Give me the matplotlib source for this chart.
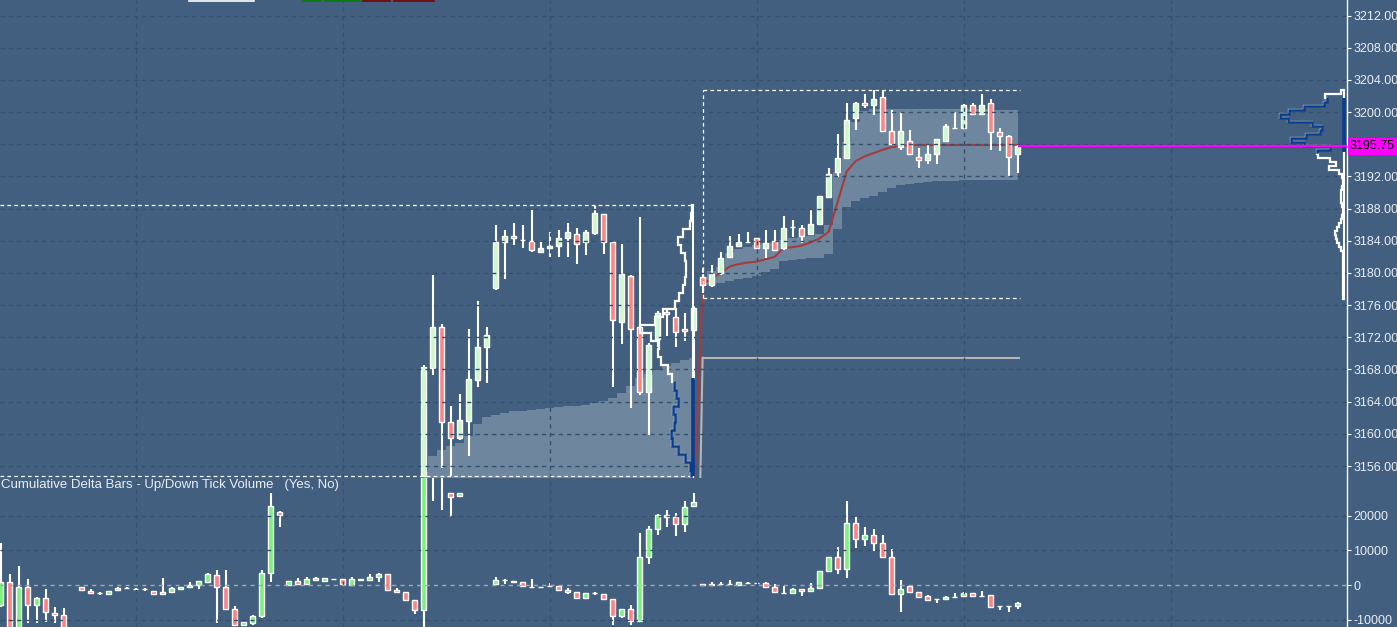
import numpy as np
import matplotlib
matplotlib.use("Agg")
import matplotlib.pyplot as plt
from matplotlib.transforms import blended_transform_factory
from matplotlib.lines import Line2D

nan = np.nan

# ---------------- price bars (bar index 47..113) ----------------
price_idx = list(range(47, 114))
price_open = [3154.75, 3168.15, 3173.3, 3161.45, 3159.45, 3161.6, 3166.7, 3170.75, 3178.1, 3183.8,
              3184.6, 3184.1, 3184.0, 3182.55, 3183.05, 3183.3, 3184.3, 3184.8, 3183.8, 3185.0,
              3187.3, 3183.8, 3173.95, 3179.65, 3173.25, 3165.15, 3171.8, 3175.1, 3174.5, 3173.0,
              3172.9,
              3179.45, 3178.5, 3179.95, 3181.95, 3183.3, 3183.8, 3184.3, 3183.05, 3184.0, 3183.05,
              3185.75, 3185.55, 3184.85, 3186.1, 3189.5, 3192.6, 3194.25, 3199.3, 3201.1, 3200.9,
              3201.85, 3197.7, 3195.7, 3196.45, 3194.45, 3194.0, 3194.8, 3196.4, 3197.97, 3197.97,
              3200.9, 3199.8, 3201.1, 3197.5, 3197.0, 3194.8]
price_high = [3168.5, 3179.8, 3173.7, 3163.45, 3164.95, 3173.0, 3176.5, 3173.3, 3185.9, 3185.3,
              3186.2, 3185.9, 3187.8, 3183.9, 3185.15, 3185.35, 3186.2, 3185.55, 3185.35, 3188.3,
              3187.3, 3183.8, 3183.6, 3179.8, 3186.9, 3171.25, 3175.3, 3175.6, 3175.6, 3175.0,
              3176.0,
              3180.57, 3180.98, 3182.56, 3184.6, 3184.85, 3185.05, 3184.3, 3185.35, 3185.35, 3187.1,
              3186.6, 3186.0, 3187.9, 3189.6, 3193.0, 3197.3, 3201.1, 3201.3, 3202.3, 3202.7,
              3202.7, 3200.3, 3199.96, 3197.8, 3195.5, 3196.0, 3196.7, 3198.5, 3200.05, 3201.0,
              3201.1, 3202.3, 3201.6, 3198.0, 3197.2, 3195.9]
price_low = [3154.75, 3167.3, 3155.7, 3154.75, 3159.25, 3157.25, 3165.85, 3166.35, 3177.9, 3179.3,
             3183.5, 3183.05, 3182.65, 3182.55, 3182.0, 3182.0, 3182.0, 3181.1, 3182.2, 3184.7,
             3182.4, 3165.85, 3171.2, 3163.15, 3164.8, 3159.85, 3170.8, 3172.1, 3170.8, 3171.6,
             3166.7,
             3177.5, 3178.3, 3179.7, 3181.8, 3183.3, 3183.8, 3183.05, 3181.8, 3182.85, 3182.85,
             3184.5, 3183.7, 3184.85, 3186.1, 3189.5, 3191.9, 3194.25, 3197.8, 3200.5, 3199.6,
             3197.7, 3195.9, 3195.3, 3194.7, 3193.1, 3193.6, 3193.6, 3196.4, 3197.97, 3197.97,
             3199.7, 3199.7, 3195.3, 3195.1, 3192.05, 3192.4]
price_close = [3168.35, 3173.3, 3161.45, 3159.45, 3161.7, 3166.8, 3170.85, 3172.3, 3183.9, 3184.6,
               3184.3, 3184.1, 3182.8, 3183.05, 3183.35, 3184.3, 3185.15, 3183.55, 3185.05, 3187.4,
               3183.8, 3174.2, 3179.9, 3173.0, 3165.15, 3171.05, 3175.0, 3174.9, 3172.7, 3172.8,
               3175.6,
               3178.5, 3179.9, 3181.9, 3183.3, 3183.8, 3183.8, 3183.05, 3183.75, 3182.85, 3185.55,
               3185.75, 3184.6, 3186.1, 3189.6, 3192.25, 3194.25, 3199.0, 3201.1, 3200.9, 3201.6,
               3197.7, 3196.0, 3197.7, 3194.8, 3194.0, 3194.8, 3196.7, 3198.3, 3197.97, 3200.9,
               3199.8, 3200.9, 3197.5, 3197.0, 3194.45, 3195.75]

# ---------------- cumulative delta bars (bar index 0..113) ----------------
delta_open = [-5800, 966, -13500, -480, -5800, -3860, -8000, -8700, nan, -480,
              -1640, -2400, -2600, -1450, -970, -1160, -1250, -1640, -2600, -1930,
              -1060, -680, 0, 966, 2900, -680, -7050, -11600, -11100, -8900,
              3380, 20960, 0, 1160, 290, 1450, 1260, 1840, 1640, 100,
              1450, 1450, 2415, 3090, -1450, -2120, -4350, -7240, 36000, 40000,
              26600, 25700, nan, nan, nan, 290, 1450, 1160, 770, -480,
              -480, -290, -390, -1450, -2120, -3860, -2415, -2610, -4150, -8900,
              -7050, -10430, 8200, 16100, 20100, 19600, 17600, 22700, 0, 0,
              290, 190, 0, 680, 480, 480, -680, -2220, -2415, -1250,
              -1840, -970, 4150, 8000, 4540, 17900, 13200, 14500, 12100, 8200,
              -2700, -190, -2120, -3190, -4150, -4060, -3380, -3190, -2415, -3190,
              -3000, -6090, -5990, -6090]
delta_high = [12075, 3190, 5500, 1740, -3380, -1160, -6280, -6570, nan, -480,
              -1250, -2120, -1640, -680, -680, -1000, -870, -1640, 1930, -480,
              -480, 870, 1160, 3380, 4350, 4350, -6100, -10600, -8700, 4350,
              26570, 21250, 1260, 1930, 2220, 2220, 1930, 1840, 1640, 2220,
              1840, 3190, 3380, 3090, -970, -2120, -4350, 37000, 41000, 40500,
              26600, 26600, nan, nan, nan, 2220, 1840, 1160, 770, 1640,
              -480, 480, -390, -970, -2120, -2400, -2030, -2610, -4150, -7050,
              -5800, 15170, 17000, 20500, 21750, 20770, 24300, 26600, 300, 770,
              870, 1450, 770, 970, 480, 870, 190, -290, -970, -1250,
              480, 4150, 8000, 10900, 24300, 19600, 16700, 16100, 14500, 10300,
              1450, -190, -2120, -2900, -4150, -3090, -2220, -2030, -2415, -1740,
              -3000, -6090, -5990, -4830]
delta_low = [-6280, -14000, -14000, -11100, -11100, -10600, -11100, -13500, nan, -1450,
             -2600, -2900, -2600, -1450, -1250, -1300, -1640, -2600, -2600, -1930,
             -1060, -970, -1250, 966, -11100, -7240, -11600, -11600, -11600, -9660,
             966, 16900, 0, 190, 290, 1450, 1260, 1840, 290, 100,
             1450, 1450, 966, -1450, -2120, -4350, -8500, -12000, 24360, 21760,
             19650, 25700, nan, nan, nan, 290, 290, 770, -290, -480,
             -480, -290, -1450, -2610, -3860, -3860, -3000, -4150, -11600, -9660,
             -11600, -10430, 6000, 14500, 16900, 14300, 15400, 22700, -100, 0,
             290, 190, 0, 680, 190, -680, -2120, -2610, -2415, -3090,
             -1840, -970, 4150, 3090, 1930, 10600, 11300, 9850, 7730, -2700,
             -7730, -2120, -3380, -4350, -5310, -4060, -3380, -3190, -3190, -3190,
             -6470, -7240, -7730, -6850]
delta_close = [966, -13000, -480, -5800, -3860, -7730, -8700, -13000, nan, -1450,
               -2200, -2400, -1640, -970, -970, -1160, -1250, -2600, -2120, -970,
               -480, -100, 1160, 3190, -480, -7050, -11600, -10600, -8900, 3380,
               22900, 20290, 1260, 190, 1640, 1930, 1930, 1840, 290, 1640,
               1840, 2220, 3090, -1450, -2120, -4350, -7240, 36000, 40000, 33000,
               25400, 26600, nan, nan, nan, 1450, 1450, 770, -290, -480,
               -480, -290, -1450, -2030, -3860, -2400, -2415, -4150, -8900, -7050,
               -10430, 8200, 16100, 20100, 19600, 17600, 22500, 24000, 190, 200,
               290, 190, 770, 680, 480, -680, -2120, -2220, -1250, -1640,
               -970, 4150, 8000, 4540, 17900, 13200, 14500, 12100, 8000, -2700,
               -1250, -2120, -3380, -4350, -4150, -3380, -3380, -2415, -3190, -3190,
               -6470, -6090, -5990, -5120]

# ---------------- VWAP and bands ----------------
vwap_idx = list(range(77, 114))
vwap = [3151.0,
        3178.6, 3179.3, 3180.0, 3180.8, 3181.1, 3181.3, 3181.4, 3181.7, 3182.0, 3183.1,
        3183.2, 3183.4, 3183.8, 3184.3, 3185.1, 3188.8, 3192.6, 3193.9, 3194.5, 3194.9,
        3195.3, 3195.65, 3195.8, 3195.9, 3195.9, 3195.9, 3195.9, 3195.9, 3195.9, 3195.9,
        3195.9, 3195.9, 3195.9, 3195.9, 3195.9, 3195.9]
band2_idx = list(range(78, 114))
band2_upper = [3179.5, 3180.2, 3180.8, 3182.5, 3183.0, 3183.2, 3183.5, 3183.7, 3183.9, 3184.1,
               3184.3, 3184.5, 3184.6, 3184.9, 3186.0, 3192.5, 3196.3, 3198.7, 3200.1, 3200.4,
               3200.4, 3200.4, 3200.4, 3200.4, 3200.4, 3200.4, 3200.4, 3200.4, 3200.4, 3200.4,
               3200.4, 3200.4, 3200.4, 3200.3, 3200.3, 3200.25]
band2_lower = [3178.4, 3178.5, 3178.7, 3179.0, 3179.2, 3179.4, 3179.6, 3180.1, 3180.5, 3181.5,
               3181.6, 3181.7, 3181.8, 3181.8, 3182.4, 3185.4, 3188.2, 3189.0, 3189.3, 3189.6,
               3190.0, 3190.5, 3190.9, 3191.1, 3191.2, 3191.3, 3191.4, 3191.4, 3191.4, 3191.5,
               3191.5, 3191.5, 3191.5, 3191.6, 3191.6, 3191.6]
band1_idx = list(range(47, 78))
band1_upper = [3155.2, 3157.3, 3158.0, 3158.5, 3158.9, 3159.7, 3161.2, 3162.1, 3162.4, 3162.6,
               3162.8, 3162.9, 3163.0, 3163.1, 3163.2, 3163.3, 3163.4, 3163.5, 3163.6, 3163.8,
               3164.1, 3164.5, 3165.1, 3166.0, 3167.0, 3167.4, 3167.9, 3168.4, 3168.8, 3169.2,
               3169.4]

prior_level_prev = 3110.0
prior_level = 3169.45

# session ranges
s1_high, s1_low, s1_last = 3188.45, 3154.75, 77
s2_first, s2_last = 78, 113
s2_high, s2_low = 3202.75, 3176.85

# ---------------- volume profiles ----------------
prof1_levels = list(range(3155, 3189))
prof1_vol = [2, 3, 7, 14, 20, 21, 18, 17, 19, 14, 16, 18, 20, 24, 30, 33, 32, 40, 50, 36,
             28, 17, 13, 9, 7, 6, 6, 7, 11, 14, 9, 3, 2, 1]
prof1_va = (3154.75, 3166.9)

prof2_levels = [3177.0 + 0.5 * k for k in range(52)]
prof2_vol = [0.5, 0.5, 0.5, 0.5, 0.5, 0.5, 0.5, 0.5, 0.5, 0.5,
             1, 1, 3, 5, 7, 8, 9, 7, 5, 3,
             2, 1, 1, 2, 3, 3, 3, 2, 1, 1,
             2, 5, 15, 8, 14, 26, 27, 14, 40, 53,
             38, 24, 22, 32, 56, 64, 55, 40, 20, 17,
             19, 3]
prof2_va = (3195.0, 3201.75)

last_price = price_close[-1]

price_ticks = list(range(3156, 3213, 4))
delta_ticks = [-10000, 0, 10000, 20000]
vgrid_idx = [15, 38, 61, 84, 107, 130]

# ---------------- style ----------------
W, H = 1397, 627
BG = "#435F7F"
GRID = "#33506E"
FILL = "#6F869F"
UP_P, DN_P = "#CDF7CD", "#FF8585"
UP_D, DN_D = "#7DF07D", "#FF8080"
BLUE = "#0B3D8E"
TXT = "#E8EEF4"

plt.rcParams["font.family"] = ["Liberation Sans", "DejaVu Sans"]

fig = plt.figure(figsize=(W / 100, H / 100), dpi=100, facecolor=BG)
split = 477.5
axw = 1347 / W
ax1 = fig.add_axes([0, (H - split) / H, axw, split / H])
ax2 = fig.add_axes([0, 0, axw, (H - split) / H])

px_per_bar = 9.0
x_left = -0.6 / px_per_bar
x_right = (1347 - 0.6) / px_per_bar

ax1.set_ylim(3212 - (split - 15.5) / 8.045, 3212 + 15.5 / 8.045)
ax2.set_ylim((585 - 627) / 34.6 * 1e4, (585 - split) / 34.6 * 1e4)

for ax in (ax1, ax2):
    ax.set_facecolor(BG)
    ax.set_xlim(x_left, x_right)
    for s in ("top", "left", "bottom"):
        ax.spines[s].set_visible(False)
    ax.spines["right"].set_color("white")
    ax.spines["right"].set_linewidth(1.0)
    ax.yaxis.tick_right()
    ax.tick_params(axis="y", colors="white", labelcolor=TXT, labelsize=9, length=3, width=0.8, pad=1.5)
    ax.set_xticks([])
    for xv in vgrid_idx:
        ax.axvline(xv, color=GRID, lw=1.0, ls=(0, (3, 3)), zorder=5)

# the tick label hidden behind the last-price marker is left blank
ax1.set_yticks(price_ticks)
ax1.set_yticklabels(["" if abs(t - last_price) < 1 else f"{t:.2f}" for t in price_ticks])
ax2.set_yticks(delta_ticks)
ax2.set_yticklabels([f"{t}" for t in delta_ticks])

for t in price_ticks:
    ax1.axhline(t, color=GRID, lw=1.0, ls=(0, (3, 3)), zorder=5)
for t in delta_ticks:
    if t == 0:
        ax2.axhline(t, color="#A7A7A7", lw=1.0, ls=(0, (3, 3)), zorder=5)
    else:
        ax2.axhline(t, color=GRID, lw=1.0, ls=(0, (3, 3)), zorder=5)


def draw_candles(ax, idx, o, h, l, c, up, dn, width=0.56):
    idx = np.asarray(idx, float)
    o, h, l, c = (np.asarray(a, float) for a in (o, h, l, c))
    m = ~np.isnan(o)
    ax.vlines(idx[m], l[m], h[m], color="white", lw=1.5, zorder=3)
    bottom = np.minimum(o, c)[m]
    height = np.abs(c - o)[m]
    cols = [up if cc >= oo else dn for oo, cc in zip(o[m], c[m])]
    ax.bar(idx[m], height, width, bottom=bottom, color=cols, edgecolor="white",
           linewidth=1.0, zorder=4)


# ---------------- top pane ----------------
bottom_y = ax1.get_ylim()[0] - 5
ax1.fill_between(band1_idx, bottom_y, band1_upper, step="mid", color=FILL, lw=0, zorder=1)
ax1.fill_between(band2_idx, band2_lower, band2_upper, step="mid", color=FILL, lw=0, zorder=1)

# prior level (gray) and vwap
ax1.plot([s1_last, s2_first], [prior_level_prev, prior_level], color="#B5B5B5", lw=1.5, zorder=2)
ax1.hlines(prior_level, s2_first, s2_last + 0.3, color="#B5B5B5", lw=1.5, zorder=2)
ax1.plot(vwap_idx, vwap, color="#A63B3B", lw=1.5, zorder=2)

draw_candles(ax1, price_idx, price_open, price_high, price_low, price_close, UP_P, DN_P)

# session range boxes
box_kw = dict(color="white", lw=0.9, ls=(0, (3, 2.5)), zorder=6)
ax1.hlines([s1_high, s1_low], x_left, s1_last - 0.1, **box_kw)
ax1.hlines([s2_high, s2_low], s2_first, s2_last + 0.3, **box_kw)
ax1.vlines(s2_first, s2_low, s2_high, **box_kw)


def profile(ax, levels, vols, half, base, scale, va, top):
    xs, ys = [base], [levels[0] - half]
    for p, v in zip(levels, vols):
        xx = base - v * scale
        xs += [xx, xx]
        ys += [p - half, p + half]
    xs.append(base)
    ys.append(levels[-1] + half)
    ax.plot(xs, ys, color="white", lw=1.6, zorder=6, solid_joinstyle="miter")
    bx, by = [], []
    for p, v in zip(levels, vols):
        if va[0] - 0.01 <= p <= va[1]:
            xx = base - v * scale
            bx += [xx, xx]
            by += [max(p - half, va[0]), min(p + half, va[1])]
    ax.plot(bx, by, color=BLUE, lw=1.8, zorder=7, solid_joinstyle="miter")
    ax.vlines(base, levels[0] - half, top, color="white", lw=1.5, zorder=6)
    ax.vlines(base, va[0], va[1], color=BLUE, lw=2.6, zorder=7)


profile(ax1, prof1_levels, prof1_vol, 0.5, s1_last - 0.1, 1.05 / px_per_bar, prof1_va, s1_high)
profile(ax1, prof2_levels, prof2_vol, 0.25, (1344 - 0.6) / px_per_bar, 1.0 / px_per_bar,
        prof2_va, 3202.8)

# last price line + label
ax1.hlines(last_price, s2_last, x_right, color="#FF00FF", lw=1.6, zorder=8)
tr = blended_transform_factory(ax1.transAxes, ax1.transData)
ax1.text(1.0 + 3 / 1347, last_price, f"{last_price:.2f}", transform=tr, ha="left", va="center",
         fontsize=9, color="black", zorder=9, clip_on=False,
         bbox=dict(boxstyle="square,pad=0.2", fc="#FF00FF", ec="none"))

# ---------------- bottom pane ----------------
draw_candles(ax2, list(range(len(delta_open))), delta_open, delta_high, delta_low, delta_close,
             UP_D, DN_D)
fig.text(1 / W, 1 - 479 / H, "Cumulative Delta Bars - Up/Down Tick Volume   (Yes, No)",
         ha="left", va="top", fontsize=9.5, color=TXT)

# header remnants at top edge
for x0, x1, col in [(189, 254, "white"), (303, 321, "#008000"), (325, 361, "#008000"),
                    (363, 390, "#800000"), (394, 434, "#800000")]:
    fig.add_artist(Line2D([x0 / W, x1 / W], [1 - 0.7 / H] * 2, transform=fig.transFigure,
                          color=col, lw=1.2))

fig.savefig("out.png", dpi=100, facecolor=BG)
